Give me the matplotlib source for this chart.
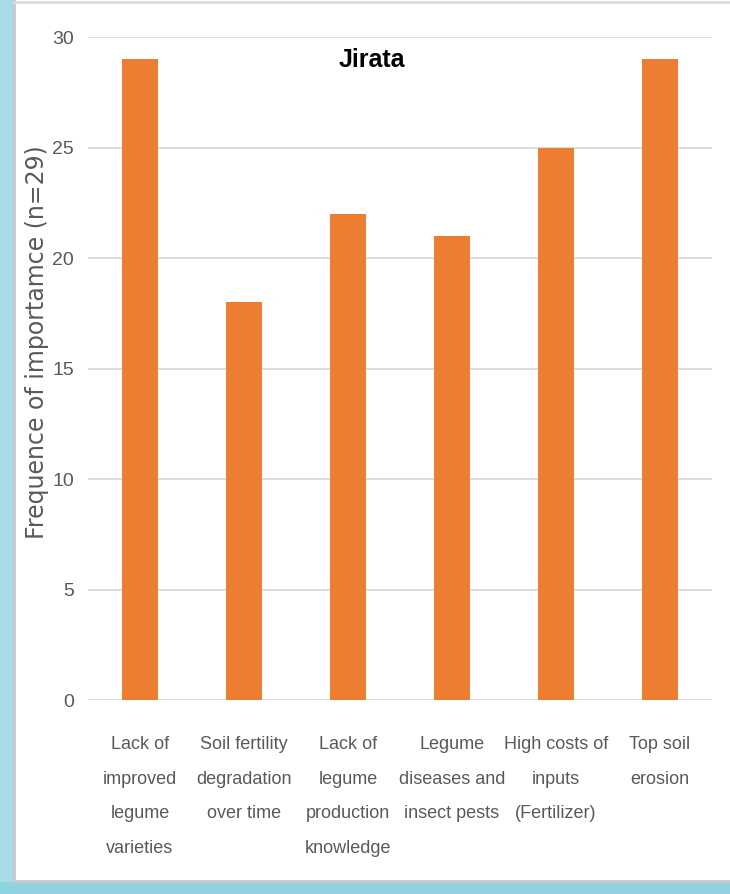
import matplotlib.pyplot as plt
from matplotlib.patches import Rectangle
from matplotlib.lines import Line2D

plt.rcParams['font.family'] = ['Liberation Sans', 'DejaVu Sans']

constraints = [
    "Lack of\nimproved\nlegume\nvarieties",
    "Soil fertility\ndegradation\nover time",
    "Lack of\nlegume\nproduction\nknowledge",
    "Legume\ndiseases and\ninsect pests",
    "High costs of\ninputs\n(Fertilizer)",
    "Top soil\nerosion",
]
frequency = [29, 18, 22, 21, 25, 29]
yticks = [0, 5, 10, 15, 20, 25, 30]

fig = plt.figure(figsize=(7.3, 8.94), dpi=100)

# light blue frame on the left and bottom edges
fig.patches.append(Rectangle((0, 0), 0.018, 1, transform=fig.transFigure,
                             color='#a8dce6', zorder=0))
fig.patches.append(Rectangle((0, 0), 1, 0.013, transform=fig.transFigure,
                             color='#8fd3e0', zorder=0))
fig.lines.append(Line2D([0.019, 0.019], [0.014, 1], transform=fig.transFigure,
                        color='#c8c8c8', lw=2))
fig.lines.append(Line2D([0.019, 1], [0.015, 0.015], transform=fig.transFigure,
                        color='#c8c8c8', lw=2))
fig.lines.append(Line2D([0.019, 1], [0.998, 0.998], transform=fig.transFigure,
                        color='#dddddd', lw=2))

ax = fig.add_axes([0.1205, 0.217, 0.8548, 0.7416])
x = range(len(constraints))
ax.bar(x, frequency, width=0.34, color='#ED7D31', zorder=3)

ax.set_xlim(-0.5, len(constraints) - 0.5)
ax.set_ylim(0, 30)
ax.set_yticks(yticks)
ax.set_xticks(list(x))
ax.set_xticklabels(constraints, fontsize=13, color='#595959', linespacing=2.35)
ax.tick_params(axis='y', labelsize=14, labelcolor='#595959', length=0, pad=10)
ax.tick_params(axis='x', length=0, pad=26)
ax.grid(axis='y', color='#d9d9d9', lw=1.3, zorder=0)
for s in ax.spines.values():
    s.set_visible(False)

fig.text(0.051, 0.617, "Frequence of importamce (n=29)", rotation=90,
         ha='center', va='center', fontsize=17, color='#595959',
         family='DejaVu Sans')
ax.text(0.455, 0.965, "Jirata", transform=ax.transAxes, ha='center', va='center',
        fontsize=18, fontweight='bold', color='black')

fig.savefig('out.png', dpi=100)
